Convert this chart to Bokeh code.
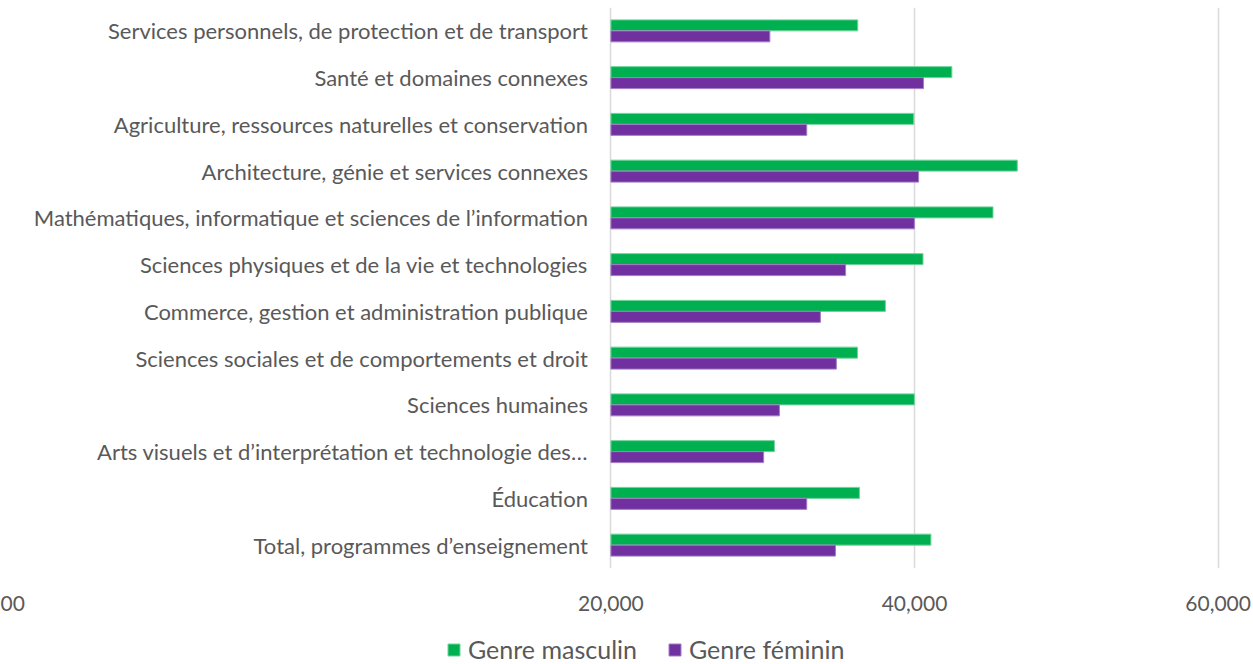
from bokeh.plotting import figure
from bokeh.models import (FactorRange, Range1d, FixedTicker,
                          Legend, LegendItem, ColumnDataSource)
from bokeh.layouts import column
from bokeh.transform import dodge
from bokeh.core.properties import value
from bokeh.embed import file_html
from bokeh.resources import INLINE

categories = [
    "Services personnels, de protection et de transport",
    "Santé et domaines connexes",
    "Agriculture, ressources naturelles et conservation",
    "Architecture, génie et services connexes",
    "Mathématiques, informatique et sciences de l’information",
    "Sciences physiques et de la vie et technologies",
    "Commerce, gestion et administration publique",
    "Sciences sociales et de comportements et droit",
    "Sciences humaines",
    "Arts visuels et d’interprétation et technologie des…",
    "Éducation",
    "Total, programmes d’enseignement",
]
male = [36260, 42460, 39950, 46770, 45170, 40560, 38080, 36240, 39990, 30770, 36370, 41080]
female = [30470, 40590, 32900, 40270, 39990, 35460, 33800, 34850, 31100, 30060, 32900, 34790]
series_names = ["Genre masculin", "Genre féminin"]
x_ticks = [-20000, 20000, 40000, 60000]
x_tick_labels = ["00", "20,000", "40,000", "60,000"]
grid_ticks = [20000, 40000, 60000]
axis_base = 20000

FONT = "Lato"
TXT = "#595959"
GREEN = "#00B050"
PURPLE = "#7030A0"
GREEN_EDGE = "#6fd39a"
PURPLE_EDGE = "#a27cc4"

src = ColumnDataSource(dict(cat=categories, male=male, female=female,
                            base=[axis_base] * len(categories)))

p = figure(width=1253, height=620,
           y_range=FactorRange(*reversed(categories), range_padding=0),
           x_range=Range1d(-20214, 62332),
           output_backend="svg", toolbar_location=None,
           min_border_left=0, min_border_right=0, min_border_top=7, min_border_bottom=52)

p.hbar(y=dodge("cat", 0.1175, range=p.y_range), left="base", right="male",
       height=0.235, source=src, fill_color=GREEN, line_color=GREEN_EDGE, line_width=1)
p.hbar(y=dodge("cat", -0.1175, range=p.y_range), left="base", right="female",
       height=0.235, source=src, fill_color=PURPLE, line_color=PURPLE_EDGE, line_width=1)

p.text(x="base", y="cat", text="cat", source=src, x_offset=-23,
       text_align="right", text_baseline="middle",
       text_font=value(FONT), text_font_size="22px", text_color=TXT)

p.yaxis.visible = False
xa = p.xaxis[0]
xa.ticker = FixedTicker(ticks=x_ticks)
xa.major_label_overrides = dict(zip(x_ticks, x_tick_labels))
xa.axis_line_color = None
xa.major_tick_line_color = None
xa.minor_tick_line_color = None
xa.major_label_text_font = FONT
xa.major_label_text_font_size = "21px"
xa.major_label_text_color = TXT
xa.major_label_standoff = 21

p.ygrid.visible = False
p.xgrid.ticker = FixedTicker(ticks=grid_ticks)
p.xgrid.grid_line_color = "#d9d9d9"
p.xgrid.grid_line_width = 1.5
p.outline_line_color = None

# legend strip below the chart: swatch renderers sit outside this strip's visible ranges
q = figure(width=1253, height=44, x_range=Range1d(0, 1), y_range=Range1d(0, 1),
           output_backend="svg", toolbar_location=None,
           min_border_left=0, min_border_right=0, min_border_top=0, min_border_bottom=0)
q.axis.visible = False
q.grid.visible = False
q.outline_line_color = None
k1 = q.hbar(y=-5, left="base", right="male", height=1, source=src,
            fill_color=GREEN, line_color=GREEN_EDGE)
k2 = q.hbar(y=-5, left="base", right="female", height=1, source=src,
            fill_color=PURPLE, line_color=PURPLE_EDGE)
legend = Legend(items=[LegendItem(label=series_names[0], renderers=[k1]),
                       LegendItem(label=series_names[1], renderers=[k2])],
                orientation="horizontal", location=(446, 0),
                label_text_font=FONT, label_text_font_size="25px", label_text_color=TXT,
                glyph_width=15, glyph_height=15, spacing=30, border_line_color=None,
                background_fill_alpha=0, padding=0, margin=0, label_standoff=7)
q.add_layout(legend, "center")

layout = column(p, q, spacing=0)
open("out.html", "w").write(file_html(layout, INLINE))
